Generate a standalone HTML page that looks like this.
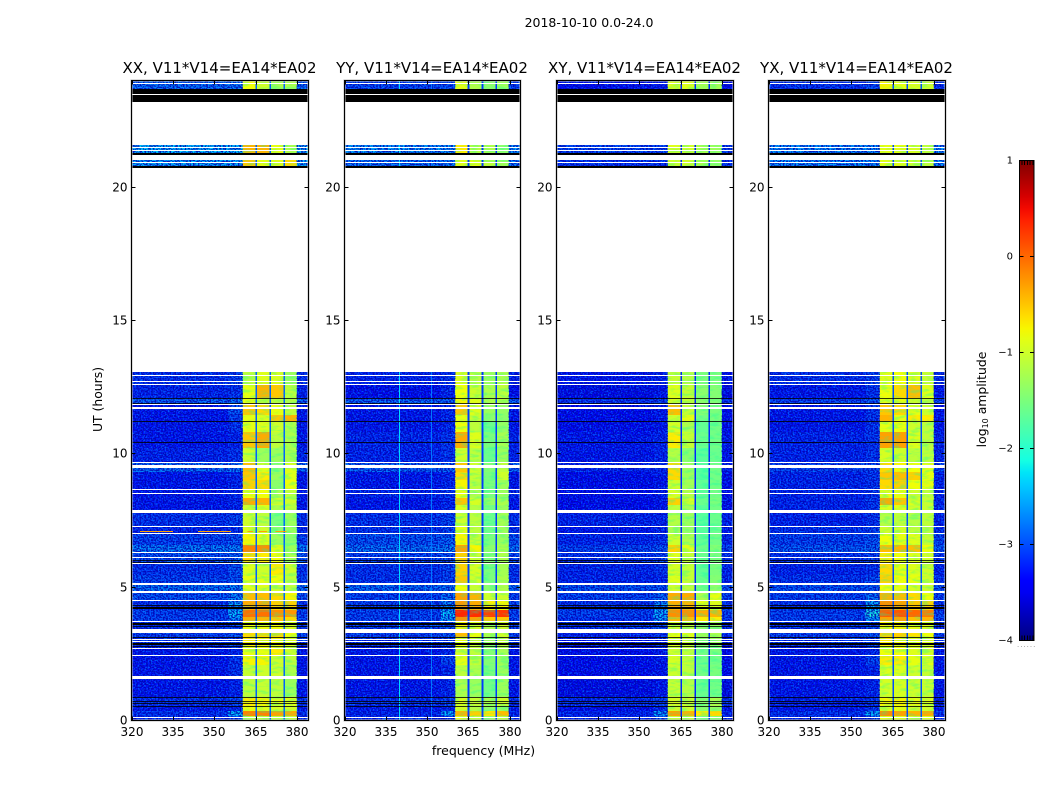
<!DOCTYPE html>
<html lang="en">
<head>
<meta charset="utf-8">
<title>2018-10-10 0.0-24.0 spectrograms</title>
<style>
html,body{margin:0;padding:0;background:#fff;}
svg{display:block;font-family:"DejaVu Sans","Liberation Sans",sans-serif;}
</style>
</head>
<body>
<svg id="figure" xmlns="http://www.w3.org/2000/svg" width="1050" height="800" viewBox="0 0 1050 800">
  <defs>
    <filter id="speckle-light" x="0" y="0" width="1" height="1" color-interpolation-filters="sRGB">
      <feTurbulence type="fractalNoise" baseFrequency="0.7 0.55" numOctaves="1" seed="7"/>
      <feColorMatrix type="matrix" values="0 0 0 0 0  0 0 0 0 0.55  0 0 0 0 1  5 0 0 0 -2.2"/>
    </filter>
    <filter id="speckle-dark" x="0" y="0" width="1" height="1" color-interpolation-filters="sRGB">
      <feTurbulence type="fractalNoise" baseFrequency="0.6 0.7" numOctaves="1" seed="23"/>
      <feColorMatrix type="matrix" values="0 0 0 0 0  0 0 0 0 0  0 0 0 0 0.7  5 0 0 0 -2.0"/>
    </filter>
    <filter id="band-mottle" x="0" y="0" width="1" height="1" color-interpolation-filters="sRGB">
      <feTurbulence type="fractalNoise" baseFrequency="0.1 0.3" numOctaves="3" seed="11"/>
      <feColorMatrix type="matrix" values="0 0 0 0 0  0 0 0 0 1  0 0 0 0 0.7  3.5 0 0 0 -1.6"/>
    </filter>
    <linearGradient id="jet-gradient" x1="0" y1="1" x2="0" y2="0"></linearGradient>
  </defs>
  <rect x="0" y="0" width="1050" height="800" fill="#fff"/>
  <text x="589" y="27" font-size="12.5" text-anchor="middle" fill="#000">2018-10-10 0.0-24.0</text>
  <text transform="translate(102,399.5) rotate(-90)" font-size="12.4" text-anchor="middle" fill="#000">UT (hours)</text>
  <text x="483.5" y="755" font-size="12.5" text-anchor="middle" fill="#000">frequency (MHz)</text>
  <text transform="translate(986,399.5) rotate(-90)" font-size="12.4" text-anchor="middle" fill="#000">log<tspan font-size="8" dy="2">10</tspan><tspan dy="-2"> amplitude</tspan></text>
  <text x="1017" y="647" font-size="7" letter-spacing="1" fill="#888">......</text>
  <g id="panels"></g>
  <g id="colorbar"></g>
</svg>
<script>
// ---- categories and tick labels ----
const panelTitles = ["XX, V11*V14=EA14*EA02", "YY, V11*V14=EA14*EA02", "XY, V11*V14=EA14*EA02", "YX, V11*V14=EA14*EA02"];
const panelNames = ["xx", "yy", "xy", "yx"];
const freqTicks = [320, 335, 350, 365, 380];
const timeTicks = [0, 5, 10, 15, 20];
const colorbarTicks = [1, 0, -1, -2, -3, -4];

// ---- time blocks (UT hours) ----
const blockEdges = [0,.15,.32,.52,.86,1.55,2.06,2.44,2.77,3.08,3.41,3.71,3.86,4.12,4.5,4.85,5.08,5.44,5.85,6.26,6.56,7.0,7.28,7.87,8.06,8.32,8.66,9.0,9.3,9.68,10.2,10.8,11.2,11.45,11.85,12.08,12.6,13.05,20.77,21.2,21.6,23.66,24];

// ---- frequency zones (MHz): background, near-band, sub-bands with gaps between ----
const zoneBackground = [320, 355];
const zoneNear = [355, 360.2];
const zoneBands = [[360.2, 364.8], [365.4, 369.9], [370.5, 374.9], [375.5, 379.8]];
const zoneTail = [379.8, 384];

// ---- log10 amplitude per time block: [background, near, band1, band2, band3, band4] ----
const xxValues = [
[-3.2,-3,-1.1,-1.1,-1.1,-1.1],[-3.1,-2.3,-.15,-.15,-.3,-.35],[-3.3,-3.2,-.85,-.9,-.95,-1],[-3.1,-3,-.7,-.75,-.85,-.9],
[-3.3,-3.2,-1.1,-1.05,-1.1,-1.3],[-3.3,-3.1,-1.05,-1,-1,-1.2],[-3.3,-3.1,-.75,-.75,-1,-1.1],[-3.3,-3.2,-.85,-.85,-.7,-1],
[-3.1,-3,-.7,-.75,-.75,-.9],[-3,-2.9,-.6,-.6,-.6,-.8],[-3.1,-3,-.8,-.8,-.8,-.9],[-3,-2.6,-.35,-.4,-.5,-.6],
[-3,-2.3,-.05,-.05,-.2,-.25],[-3.1,-2.5,-.35,-.35,-.55,-.55],[-2.9,-2.6,-.45,-.45,-.6,-.75],[-2.7,-2.6,-.9,-.9,-1,-1.1],
[-3,-2.9,-.85,-.85,-.8,-1.1],[-3.1,-2.9,-.9,-1,-.7,-1],[-2.9,-2.8,-.6,-.7,-.8,-1.2],[-2.65,-2.6,-.15,-.2,-.9,-1.3],
[-3,-2.9,-.75,-.85,-1.3,-1.4],[-3.2,-3.1,-.9,-1,-1.4,-1.3],[-3.1,-3,-1,-1.1,-1.5,-1.3],[-3.3,-3.2,-1,-.9,-1.2,-1.1],
[-3.3,-3.2,-.35,-.4,-1,-1],[-3.3,-3.2,-.8,-.8,-1.2,-1.1],[-3.3,-3.2,-.55,-.6,-1.4,-.8],[-3.3,-3.2,-.5,-.7,-1.3,-.9],
[-2.75,-2.7,-.45,-.9,-1.4,-.9],[-3.2,-3.1,-1,-1.3,-1.3,-1.2],[-3.3,-3.2,-.5,-.35,-1.1,-1.2],[-3.3,-3.1,-.85,-.9,-1,-1.2],
[-3.3,-3,-.85,-.9,-.5,-.4],[-3.3,-2.9,-.5,-.6,-.85,-1.1],[-2.8,-2.7,-.85,-.95,-1.1,-1.2],[-3.2,-3.1,-.85,-.4,-.5,-1.1],
[-3.1,-3,-1.1,-.9,-.9,-1.3],null,[-2.4,-2.4,-.5,-.85,-.9,-.6],[-2.3,-2.3,-.4,-.4,-.85,-1.2],null,[-2.75,-2.7,-.8,-1,-1.2,-1.2]];
const yyValues = [
[-3.2,-3.1,-.85,-1.1,-1.3,-1.1],[-3.2,-2.4,-.4,-.55,-.65,-.45],[-3.3,-3.2,-.95,-1.15,-1.4,-1.25],[-3.1,-3,-.9,-1.05,-1.2,-1],
[-3.3,-3.2,-1.2,-1.3,-1.55,-1.3],[-3.3,-3.2,-1.1,-1.2,-1.5,-1.3],[-3.3,-3,-.85,-1.05,-1.45,-1.25],[-3.3,-3.2,-.95,-1.1,-1.45,-1.25],
[-3.1,-3,-.8,-1.05,-1.3,-1.1],[-3,-2.9,-.45,-.85,-1.2,-1],[-3,-2.9,-.75,-.95,-1.2,-1],[-3,-2.5,-.2,-.3,-.5,-.5],
[-3,-2.3,.35,.3,.2,.25],[-3,-2.6,-.25,-.35,-.7,-.75],[-3,-2.7,-.3,-.4,-1,-1],[-2.75,-2.7,-.8,-1.05,-1.4,-1.2],
[-3.1,-3,-.5,-1,-1.5,-1.2],[-3.1,-3,-.55,-.95,-1.5,-1.25],[-3,-2.9,-.55,-1,-1.45,-1.2],[-2.7,-2.6,-.3,-.75,-1.4,-1.2],
[-2.9,-2.8,-.75,-1.05,-1.5,-1.3],[-3.1,-3,-.85,-1.1,-1.55,-1.3],[-3.1,-3,-1,-1.1,-1.6,-1.25],[-3.3,-3.2,-.9,-1.15,-1.55,-1.3],
[-3.3,-3.2,-.5,-.95,-1.35,-1.2],[-3.2,-3.1,-.85,-1.2,-1.5,-1.3],[-3.3,-3.2,-.75,-1.1,-1.5,-1.3],[-3.3,-3.2,-.6,-1.05,-1.5,-1],
[-2.8,-2.8,-.5,-1,-1.45,-1.1],[-3.2,-3.1,-1,-1.1,-1.6,-1.3],[-3.2,-3.1,-.35,-.9,-1.5,-1.25],[-3.3,-3.2,-.8,-1.1,-1.6,-1.35],
[-3.3,-3.2,-.85,-1,-1.4,-1.4],[-3.3,-3.2,-.5,-.9,-1.3,-1.35],[-2.8,-2.8,-.75,-.9,-1.2,-1.1],[-3.4,-3.2,-.8,-1,-1.2,-1.1],
[-3.2,-3.1,-.9,-1.1,-1.3,-1.2],null,[-2.7,-2.65,-.9,-.85,-1.1,-1.3],[-2.5,-2.5,-.7,-1.1,-1.2,-1.4],null,[-3,-2.95,-.85,-1.2,-1.4,-1.3]];
const xyValues = [
[-3.2,-2.9,-1.1,-1.1,-1.5,-1.4],[-3.2,-2.5,-.3,-.4,-.7,-.6],[-3.4,-3.2,-1,-1,-1.4,-1.3],[-3.1,-3,-.95,-1,-1.4,-1.2],
[-3.5,-3.3,-1.05,-1.15,-1.6,-1.55],[-3.4,-3.3,-1,-1.1,-1.55,-1.5],[-3.4,-3.3,-.95,-1.05,-1.6,-1.55],[-3.4,-3.3,-1,-1.1,-1.55,-1.5],
[-3.3,-3.2,-.9,-1.05,-1.4,-1.3],[-3.2,-3.1,-.8,-.9,-1.3,-1.2],[-3.1,-3,-1,-1.1,-1.4,-1.3],[-3.1,-2.5,-.4,-.45,-.7,-.7],
[-3,-2.4,-.2,-.2,-.35,-.4],[-3.1,-2.6,-.35,-.4,-.85,-.9],[-3,-2.8,-.35,-.35,-1.2,-.85],[-2.9,-2.9,-1,-1.1,-1.55,-1.4],
[-3.2,-3.2,-.9,-1.05,-1.6,-1.45],[-3.2,-3.1,-.95,-1.05,-1.65,-1.5],[-3.1,-3,-.9,-1.05,-1.6,-1.5],[-3,-2.9,-.55,-.9,-1.6,-1.45],
[-3.2,-3.1,-1,-1.2,-1.65,-1.55],[-3.3,-3.2,-1.2,-1.35,-1.7,-1.6],[-3.2,-3.2,-1.15,-1.3,-1.7,-1.6],[-3.4,-3.3,-1.1,-1.25,-1.7,-1.55],
[-3.4,-3.3,-.55,-.95,-1.6,-1.5],[-3.4,-3.3,-.95,-1.15,-1.65,-1.55],[-3.4,-3.3,-1,-1.25,-1.65,-1.55],[-3.4,-3.3,-.6,-1.3,-1.7,-1.55],
[-3.2,-3.2,-.6,-1.3,-1.7,-1.55],[-3.3,-3.2,-1.15,-1.4,-1.7,-1.6],[-3.3,-3.2,-.7,-1.05,-1.6,-1.55],[-3.4,-3.3,-.95,-1.2,-1.65,-1.55],
[-3.4,-3.3,-1,-.85,-1.55,-1.5],[-3.4,-3.3,-.45,-1.05,-1.45,-1.5],[-3.1,-3,-.95,-1.05,-1.4,-1.45],[-3.5,-3.3,-.9,-1.05,-1.4,-1.45],
[-3.3,-3.2,-1.05,-1.15,-1.5,-1.5],null,[-3.1,-3.1,-1,-1,-1.2,-1.35],[-3,-3,-.9,-1,-1.2,-1.3],null,[-3.4,-3.3,-.9,-.9,-1.25,-1.25]];
const yxValues = [
[-3.2,-2.9,-.85,-.9,-1,-.95],[-3.1,-2.4,-.2,-.3,-.4,-.35],[-3.3,-3.1,-.85,-.85,-.95,-1],[-3.2,-3.1,-.75,-.75,-.85,-.9],
[-3.3,-3.2,-.95,-.95,-1,-1.05],[-3.3,-3.2,-.9,-.9,-1,-1.05],[-3.3,-3,-.7,-.7,-.85,-.9],[-3.3,-3.2,-.8,-.8,-.9,-.95],
[-3.1,-3,-.7,-.75,-.85,-.9],[-3,-2.9,-.55,-.55,-.65,-.8],[-3.1,-3,-.75,-.75,-.85,-.9],[-3,-2.5,-.3,-.3,-.45,-.4],
[-3,-2.1,.05,.1,0,-.1],[-3.1,-2.4,-.2,-.3,-.5,-.55],[-3,-2.7,-.4,-.45,-.6,-.8],[-2.9,-2.85,-.8,-.85,-.95,-1],
[-3.1,-3,-.55,-.8,-.85,-1],[-3.2,-3.1,-.6,-.85,-.9,-1],[-3.1,-3,-.7,-.8,-.9,-1],[-2.85,-2.8,-.45,-.4,-.45,-.8],
[-3,-2.9,-.8,-.85,-.9,-1.05],[-3.1,-3,-1,-.95,-1.1,-1.1],[-3.2,-3.1,-1.15,-1.1,-1.15,-1.1],[-3.2,-3.1,-.9,-.9,-1,-1.05],
[-3.2,-3.1,-.35,-.5,-.9,-1.05],[-3.2,-3.1,-.85,-.85,-1,-1.1],[-3.2,-3.1,-.6,-.55,-.8,-.85],[-3.2,-3.1,-.5,-.45,-.55,-.85],
[-3,-3,-.6,-.75,-.8,-.85],[-3.2,-3.1,-.95,-1,-1.1,-1.1],[-3.2,-3.1,-.3,-.3,-.9,-1.1],[-3.3,-3.1,-.85,-.8,-1,-1.1],
[-3.3,-3.1,-.4,-.85,-.7,-.7],[-3.3,-3.1,-.5,-.6,-.85,-1],[-3,-2.9,-.85,-.85,-1,-1.1],[-3.3,-3.1,-.8,-.6,-.45,-.9],
[-3.1,-3,-.85,-.8,-.9,-1.05],null,[-2.55,-2.55,-.9,-.9,-1,-1.1],[-2.55,-2.55,-.85,-.85,-.95,-1.1],null,[-3.1,-3,-.75,-.85,-.95,-1]];
const panelValues = [xxValues, yyValues, xyValues, yxValues];

// ---- amplitude in the dropouts between sub-bands, per panel ----
const gapLevels = [-2.9, -3.1, -3.2, -3.0];

// ---- narrow interference channels in the YY panel ----
const yyRfiChannels = [340, 351.8];
const yyRfiLevels = [-2.3, -2.8];

// ---- intermittent interference streak near 7.1 h in the XX panel ----
const xxStreakTime = 7.1;
const xxStreakStarts = [323, 344, 362, 366, 372];
const xxStreakEnds = [335, 356, 364, 369, 376];
const xxStreakLevel = -0.3;

// ---- flagged time ranges, [start, end] in hours ----
const whiteSpans = [[.07,.105],[1.55,1.65],[2.4,2.44],[2.66,2.7],[2.92,2.96],[3,3.04],[3.26,3.41],[3.675,3.71],[4.46,4.5],[4.75,4.85],[5.08,5.12],[5.85,5.89],[6.07,6.11],[6.26,6.3],[6.97,7.01],[7.24,7.28],[7.77,7.87],[8.49,8.53],[8.62,8.66],[9.46,9.56],[9.64,9.68],[11.66,11.74],[11.81,11.85],[12.56,12.6],[12.67,12.71],[12.9,12.94],[13.05,20.71],[20.9,20.94],[20.99,21.18],[21.33,21.37],[21.45,21.48],[21.58,23.18],[23.43,23.47],[23.87,23.9]];
const blackSpans = [[.51,.54],[.6,.64],[.68,.72],[.82,.86],[2.76,2.79],[2.83,2.87],[3.07,3.11],[3.51,3.54],[3.58,3.62],[4.18,4.22],[4.26,4.3],[5.9,5.94],[5.97,6.01],[10.39,10.43],[11.18,11.22],[11.85,11.88],[12.04,12.07],[20.71,20.77],[21.18,21.26],[23.18,23.43],[23.47,23.66]];

// ---- layout and scales ----
const SVG_NS = "http://www.w3.org/2000/svg";
const panelLefts = [131.5, 344.5, 556.5, 768.5];
const panelWidths = [177, 176, 177, 177];
const plotTop = 80.5, plotBottom = 720.5;
const freqMin = 320, freqMax = 384, timeMax = 24;
const vMin = -4, vMax = 1;
const cbLeft = 1019.5, cbRight = 1034, cbTop = 160, cbBottom = 640;

function xScale(panel, f) { return panelLefts[panel] + (f - freqMin) / (freqMax - freqMin) * panelWidths[panel]; }
function yScale(t) { return 720 - t / timeMax * 640; }
function cbScale(v) { return cbBottom - (v - vMin) / (vMax - vMin) * (cbBottom - cbTop); }

function jet(v) {
  const f = Math.min(1, Math.max(0, (v - vMin) / (vMax - vMin)));
  const seg = (pts) => {
    for (let i = 1; i < pts.length; i++) {
      if (f <= pts[i][0]) return pts[i-1][1] + (pts[i][1] - pts[i-1][1]) * (f - pts[i-1][0]) / (pts[i][0] - pts[i-1][0]);
    }
    return pts[pts.length-1][1];
  };
  const r = seg([[0,0],[.35,0],[.66,1],[.89,1],[1,.5]]);
  const g = seg([[0,0],[.125,0],[.375,1],[.64,1],[.91,0],[1,0]]);
  const b = seg([[0,.5],[.11,1],[.34,1],[.65,0],[1,0]]);
  return "rgb(" + Math.round(r*255) + "," + Math.round(g*255) + "," + Math.round(b*255) + ")";
}

function svgEl(tag, parent) {
  const el = document.createElementNS(SVG_NS, tag);
  parent.appendChild(el);
  return el;
}
function place(el, x, y, w, h, fill) {
  el.setAttribute("x", x);
  el.setAttribute("y", y);
  el.setAttribute("width", w);
  el.setAttribute("height", h);
  el.setAttribute("fill", fill);
  el.setAttribute("shape-rendering", "crispEdges");
}
function drawLine(el, x1, y1, x2, y2) {
  el.setAttribute("x1", x1);
  el.setAttribute("y1", y1);
  el.setAttribute("x2", x2);
  el.setAttribute("y2", y2);
  el.setAttribute("stroke", "#000");
  el.setAttribute("stroke-width", "1");
  el.setAttribute("shape-rendering", "crispEdges");
}
function drawText(el, x, y, size, anchor, str) {
  el.setAttribute("x", x);
  el.setAttribute("y", y);
  el.setAttribute("font-size", size);
  el.setAttribute("text-anchor", anchor);
  el.setAttribute("fill", "#000");
  el.textContent = str;
}

const panelsRoot = document.getElementById("panels");

panelTitles.forEach((title, p) => {
  const left = panelLefts[p], width = panelWidths[p], right = left + width;
  const plotHeight = plotBottom - plotTop;

  const panel = svgEl("g", panelsRoot);
  
  

  const clip = svgEl("clipPath", panel);
  clip.setAttribute("id", "clip-" + p);
  const clipRect = svgEl("rect", clip);
  clipRect.setAttribute("x", left);
  clipRect.setAttribute("y", plotTop);
  clipRect.setAttribute("width", width);
  clipRect.setAttribute("height", plotHeight);

  const cells = svgEl("g", panel);
  cells.setAttribute("clip-path", "url(#clip-" + p + ")");
  
  

  const values = panelValues[p];
  values.forEach((row, i) => {
    if (!row) return;
    const yTop = Math.round(yScale(blockEdges[i + 1]));
    const yBot = Math.round(yScale(blockEdges[i]));
    const cellH = Math.max(1, yBot - yTop);
    const addCell = (f0, f1, v) => {
      const cell = svgEl("rect", cells);
      
      
      const x0 = xScale(p, f0), x1 = xScale(p, f1);
      place(cell, x0, yTop, x1 - x0, cellH, jet(v));
    };
    addCell(zoneBackground[0], zoneBackground[1], row[0]);
    addCell(zoneNear[0], zoneNear[1], row[1]);
    zoneBands.forEach((band, b) => {
      addCell(band[0], band[1], row[2 + b]);
      if (b < zoneBands.length - 1) addCell(band[1], zoneBands[b + 1][0], gapLevels[p]);
    });
    addCell(zoneTail[0], zoneTail[1], row[0]);
  });

  // cosmetic fine-grain texture in place of the per-channel noise
  [["speckle-light", 0.6], ["speckle-dark", 0.85]].forEach((layer) => {
    const bg = svgEl("rect", cells);
    
    
    const bgW = xScale(p, zoneNear[1]) - left;
    place(bg, left, plotTop, bgW, plotHeight, "#000");
    bg.setAttribute("filter", "url(#" + layer[0] + ")");
    bg.setAttribute("opacity", layer[1]);

    const tail = svgEl("rect", cells);
    
    
    place(tail, xScale(p, zoneTail[0]), plotTop, right - xScale(p, zoneTail[0]), plotHeight, "#000");
    tail.setAttribute("filter", "url(#" + layer[0] + ")");
    tail.setAttribute("opacity", layer[1]);
  });

  // cosmetic mottling inside the sub-bands
  zoneBands.forEach((band) => {
    const mottle = svgEl("rect", cells);
    
    
    place(mottle, xScale(p, band[0]), plotTop, xScale(p, band[1]) - xScale(p, band[0]), plotHeight, "#000");
    mottle.setAttribute("filter", "url(#band-mottle)");
    mottle.setAttribute("opacity", 0.3);
  });

  if (p === 0) {
    xxStreakStarts.forEach((f0, s) => {
      const streak = svgEl("rect", cells);
      
      
      place(streak, xScale(p, f0), Math.round(yScale(xxStreakTime)), xScale(p, xxStreakEnds[s]) - xScale(p, f0), 1, jet(xxStreakLevel));
    });
  }
  if (p === 1) {
    yyRfiChannels.forEach((f, r) => {
      values.forEach((row, i) => {
        if (!row) return;
        const yTop = Math.round(yScale(blockEdges[i + 1]));
        const yBot = Math.round(yScale(blockEdges[i]));
        const line = svgEl("rect", cells);
        
        
        place(line, Math.floor(xScale(p, f)), yTop, 1, yBot - yTop, jet(yyRfiLevels[r]));
      });
    });
  }

  whiteSpans.forEach((span) => {
    const yTop = Math.round(yScale(span[1]));
    const yBot = Math.round(yScale(span[0]));
    const flag = svgEl("rect", cells);
    
    
    place(flag, left, yTop, width, Math.max(1, yBot - yTop), "#fff");
  });
  blackSpans.forEach((span) => {
    const yTop = Math.round(yScale(span[1]));
    const yBot = Math.round(yScale(span[0]));
    const flagH = Math.max(1, yBot - yTop);
    const flag = svgEl("rect", cells);
    
    
    place(flag, left, yTop, width, flagH, "#000");
    flag.setAttribute("opacity", flagH > 1 ? 1 : 0.8);
  });

  const frameHalo = svgEl("rect", panel);
  
  
  frameHalo.setAttribute("x", left);
  frameHalo.setAttribute("y", plotTop);
  frameHalo.setAttribute("width", width);
  frameHalo.setAttribute("height", plotHeight);
  frameHalo.setAttribute("fill", "none");
  frameHalo.setAttribute("stroke", "#bbb");
  frameHalo.setAttribute("stroke-width", "2");

  const frame = svgEl("rect", panel);
  
  
  frame.setAttribute("x", left);
  frame.setAttribute("y", plotTop);
  frame.setAttribute("width", width);
  frame.setAttribute("height", plotHeight);
  frame.setAttribute("fill", "none");
  frame.setAttribute("stroke", "#000");
  frame.setAttribute("stroke-width", "1");
  frame.setAttribute("shape-rendering", "crispEdges");

  freqTicks.forEach((f) => {
    const x = Math.round(xScale(p, f)) + 0.5;
    const bottomTick = svgEl("line", panel);
    
    
    drawLine(bottomTick, x, plotBottom, x, plotBottom - 4);
    const topTick = svgEl("line", panel);
    
    
    drawLine(topTick, x, plotTop, x, plotTop + 4);
    const label = svgEl("text", panel);
    
    
    drawText(label, x - 0.5, 736, 12, "middle", String(f));
  });

  timeTicks.forEach((t) => {
    const y = Math.round(yScale(t)) + 0.5;
    const leftTick = svgEl("line", panel);
    
    
    drawLine(leftTick, left, y, left + 4, y);
    const rightTick = svgEl("line", panel);
    
    
    drawLine(rightTick, right - 4, y, right, y);
    const label = svgEl("text", panel);
    
    
    drawText(label, left - 4, y + 4, 12, "end", String(t));
  });

  const heading = svgEl("text", panel);
  
  
  drawText(heading, left + width / 2 - 0.5, 73, 15, "middle", title);
});

// ---- colorbar ----
const gradient = document.getElementById("jet-gradient");
for (let s = 0; s <= 40; s++) {
  const stop = svgEl("stop", gradient);
  stop.setAttribute("offset", s / 40);
  stop.setAttribute("stop-color", jet(vMin + (vMax - vMin) * s / 40));
}
const cbRoot = document.getElementById("colorbar");
const cbBody = svgEl("rect", cbRoot);


cbBody.setAttribute("x", cbLeft);
cbBody.setAttribute("y", cbTop + 0.5);
cbBody.setAttribute("width", cbRight - cbLeft);
cbBody.setAttribute("height", cbBottom - cbTop);
cbBody.setAttribute("fill", "url(#jet-gradient)");
cbBody.setAttribute("stroke", "#000");
cbBody.setAttribute("stroke-width", "1");
cbBody.setAttribute("shape-rendering", "crispEdges");

colorbarTicks.forEach((v) => {
  const y = Math.round(cbScale(v)) + 0.5;
  const leftTick = svgEl("line", cbRoot);
  
  
  drawLine(leftTick, cbLeft, y, cbLeft + 4, y);
  const rightTick = svgEl("line", cbRoot);
  
  
  drawLine(rightTick, cbRight - 4, y, cbRight, y);
  const label = svgEl("text", cbRoot);
  
  
  drawText(label, 1013, y + 3, 10, "end", String(v).replace("-", "\u2212"));
});

for (let m = 0; m < 5; m++) {
  const x = cbLeft + 2.5 + m * 2.7;
  const topMinor = svgEl("line", cbRoot);
  
  
  drawLine(topMinor, x, cbTop + 0.5, x, cbTop + 5);
  const bottomMinor = svgEl("line", cbRoot);
  
  
  drawLine(bottomMinor, x, cbBottom - 4.5, x, cbBottom);
}
</script>
</body>
</html>
